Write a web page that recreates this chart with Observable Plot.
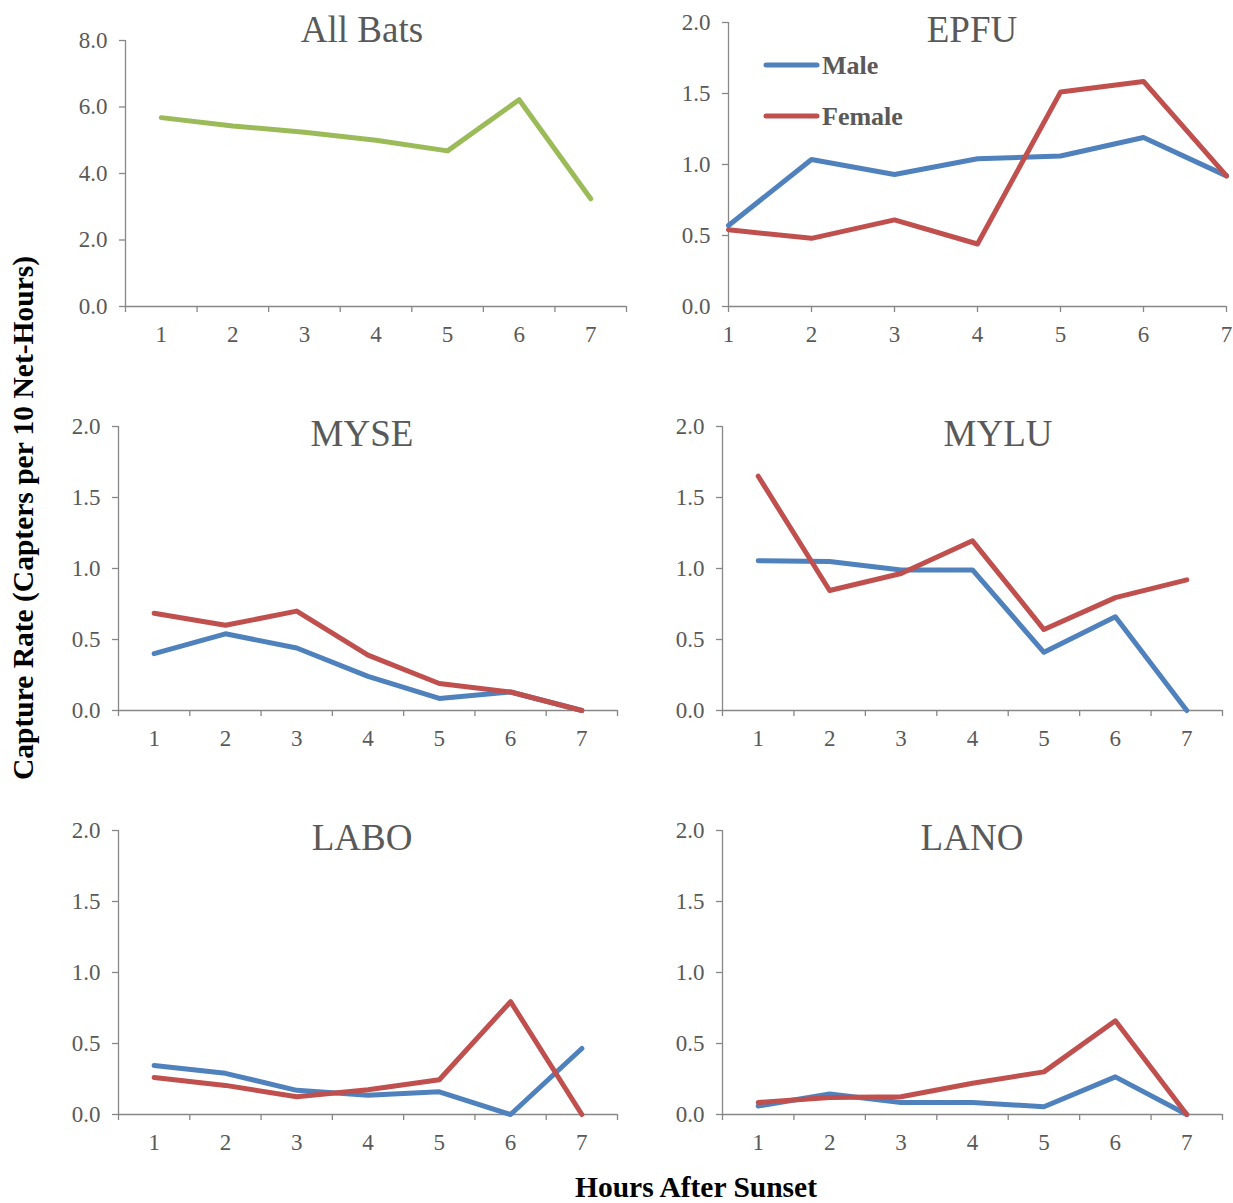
<!DOCTYPE html>
<html>
<head>
<meta charset="utf-8">
<script src="https://cdn.jsdelivr.net/npm/d3@7"></script>
<script src="https://cdn.jsdelivr.net/npm/@observablehq/plot@0.6"></script>
<style>
  html, body { margin: 0; padding: 0; background: #fff; }
  #root { position: relative; width: 1233px; height: 1203px; overflow: hidden; }
  #root > svg { position: absolute; }
</style>
</head>
<body>
<div id="root"></div>
<script>
// ---------- data ----------
const hours = [1, 2, 3, 4, 5, 6, 7];
const sexes = ["Male", "Female"];

const allBats    = [5.68, 5.43, 5.24, 5.00, 4.68, 6.22, 3.24];

const epfuMale   = [0.57, 1.035, 0.93, 1.04, 1.06, 1.19, 0.92];
const epfuFemale = [0.54, 0.48, 0.61, 0.44, 1.51, 1.585, 0.92];

const myseMale   = [0.40, 0.54, 0.44, 0.24, 0.085, 0.13, 0.0];
const myseFemale = [0.685, 0.60, 0.70, 0.39, 0.19, 0.13, 0.0];

const myluMale   = [1.055, 1.05, 0.99, 0.99, 0.41, 0.66, 0.0];
const myluFemale = [1.65, 0.845, 0.965, 1.195, 0.57, 0.795, 0.92];

const laboMale   = [0.345, 0.29, 0.17, 0.135, 0.16, 0.0, 0.465];
const laboFemale = [0.26, 0.205, 0.125, 0.175, 0.245, 0.795, 0.0];

const lanoMale   = [0.06, 0.145, 0.085, 0.085, 0.055, 0.265, 0.0];
const lanoFemale = [0.085, 0.12, 0.125, 0.22, 0.30, 0.66, 0.0];

const ticksAll = [0, 2, 4, 6, 8];
const ticksSpecies = [0, 0.5, 1.0, 1.5, 2.0];

const titles = ["All Bats", "EPFU", "MYSE", "MYLU", "LABO", "LANO"];
const yAxisTitle = "Capture Rate (Capters per 10 Net-Hours)";
const xAxisTitle = "Hours After Sunset";

// ---------- styles ----------
const GREEN = "#9BBB59", BLUE = "#4F81BD", RED = "#C0504D";
const AXIS = "#878787", TEXT = "#595959";
const SERIF = "'Liberation Serif', 'Times New Roman', Times, serif";

// ---------- layout ----------
const panels = [
  {title: titles[0], series: [{name: "All", values: allBats, color: GREEN}], yMax: 8, ticks: ticksAll, band: true,
   left: 0, top: 0, width: 640, height: 360, mt: 40, mb: 54, ml: 125, mr: 14},
  {title: titles[1], series: [{name: sexes[0], values: epfuMale, color: BLUE}, {name: sexes[1], values: epfuFemale, color: RED}], yMax: 2, ticks: ticksSpecies, band: false,
   left: 640, top: 0, width: 593, height: 360, mt: 22, mb: 54, ml: 88, mr: 7},
  {title: titles[2], series: [{name: sexes[0], values: myseMale, color: BLUE}, {name: sexes[1], values: myseFemale, color: RED}], yMax: 2, ticks: ticksSpecies, band: true,
   left: 0, top: 380, width: 640, height: 380, mt: 46, mb: 50, ml: 118, mr: 23},
  {title: titles[3], series: [{name: sexes[0], values: myluMale, color: BLUE}, {name: sexes[1], values: myluFemale, color: RED}], yMax: 2, ticks: ticksSpecies, band: true,
   left: 640, top: 380, width: 593, height: 380, mt: 46, mb: 50, ml: 82, mr: 11},
  {title: titles[4], series: [{name: sexes[0], values: laboMale, color: BLUE}, {name: sexes[1], values: laboFemale, color: RED}], yMax: 2, ticks: ticksSpecies, band: true,
   left: 0, top: 790, width: 640, height: 380, mt: 40, mb: 56, ml: 118, mr: 23},
  {title: titles[5], series: [{name: sexes[0], values: lanoMale, color: BLUE}, {name: sexes[1], values: lanoFemale, color: RED}], yMax: 2, ticks: ticksSpecies, band: true,
   left: 640, top: 790, width: 593, height: 380, mt: 40, mb: 56, ml: 82, mr: 11}
];

const root = document.getElementById("root");

function makePanel(p) {
  const data = [];
  p.series.forEach(s => s.values.forEach((v, i) => data.push({hour: hours[i], value: v, series: s.name})));
  const first = hours[0], last = hours[hours.length - 1];
  const xDomain = p.band ? [first - 0.5, last + 0.5] : [first, last];
  const boundaries = hours.map(h => h - 0.5).concat([last + 0.5]);
  const axisMarks = p.band
    ? [
        Plot.axisX({ticks: boundaries, tickSize: 6, tickFormat: () => "", stroke: AXIS, strokeWidth: 1.3, label: null}),
        Plot.axisX({ticks: hours, tickSize: 0, tickPadding: 19, color: TEXT, label: null, tickFormat: d => String(d)})
      ]
    : [
        Plot.axisX({ticks: hours, tickSize: 6, tickPadding: 13, stroke: AXIS, strokeWidth: 1.3, color: TEXT, label: null, tickFormat: d => String(d)})
      ];
  const chart = Plot.plot({
    width: p.width,
    height: p.height,
    marginTop: p.mt, marginBottom: p.mb, marginLeft: p.ml, marginRight: p.mr,
    style: {fontFamily: SERIF, fontSize: "23px", color: TEXT, background: "transparent", overflow: "visible"},
    x: {type: "linear", domain: xDomain},
    y: {type: "linear", domain: [0, p.yMax]},
    color: {domain: p.series.map(s => s.name), range: p.series.map(s => s.color)},
    marks: [
      Plot.axisY({ticks: p.ticks, tickSize: 6, tickPadding: 12, tickFormat: d => d.toFixed(1), stroke: AXIS, strokeWidth: 1.3, color: TEXT, label: null}),
      ...axisMarks,
      Plot.ruleX([xDomain[0]], {stroke: AXIS, strokeWidth: 1.3}),
      Plot.ruleY([0], {stroke: AXIS, strokeWidth: 1.3}),
      Plot.line(data, {x: "hour", y: "value", z: "series", stroke: "series", strokeWidth: 5, strokeLinecap: "round", strokeLinejoin: "round"})
    ]
  });
  chart.style.left = p.left + "px";
  chart.style.top = p.top + "px";
  root.appendChild(chart);
}
panels.forEach(makePanel);

// ---------- overlay: titles, axis titles, legend ----------
const overlay = d3.select(root).append("svg")
  .attr("width", 1233).attr("height", 1203)
  .style("left", "0px").style("top", "0px")
  .style("pointer-events", "none")
  .attr("font-family", SERIF);

const titlePos = [[362, 42], [972, 42], [362, 446], [998, 446], [362, 850], [972, 850]];
panels.forEach((p, i) => {
  overlay.append("text")
    .attr("x", titlePos[i][0]).attr("y", titlePos[i][1])
    .attr("text-anchor", "middle").attr("font-size", 37).attr("fill", TEXT)
    .text(p.title);
});

overlay.append("text")
  .attr("transform", "translate(33,518) rotate(-90)")
  .attr("text-anchor", "middle").attr("font-size", 29.5).attr("font-weight", "bold").attr("fill", "#000")
  .text(yAxisTitle);

overlay.append("text")
  .attr("x", 696).attr("y", 1197)
  .attr("text-anchor", "middle").attr("font-size", 29.5).attr("font-weight", "bold").attr("fill", "#000")
  .text(xAxisTitle);

// legend (inside EPFU panel)
const legendItems = panels[1].series;
legendItems.forEach((s, i) => {
  const y = 65 + i * 51;
  overlay.append("line")
    .attr("x1", 766).attr("x2", 817).attr("y1", y).attr("y2", y)
    .attr("stroke", s.color).attr("stroke-width", 5).attr("stroke-linecap", "round");
  overlay.append("text")
    .attr("x", 822).attr("y", y + 9)
    .attr("font-size", 26).attr("font-weight", "bold").attr("fill", TEXT)
    .text(s.name);
});
</script>
</body>
</html>
